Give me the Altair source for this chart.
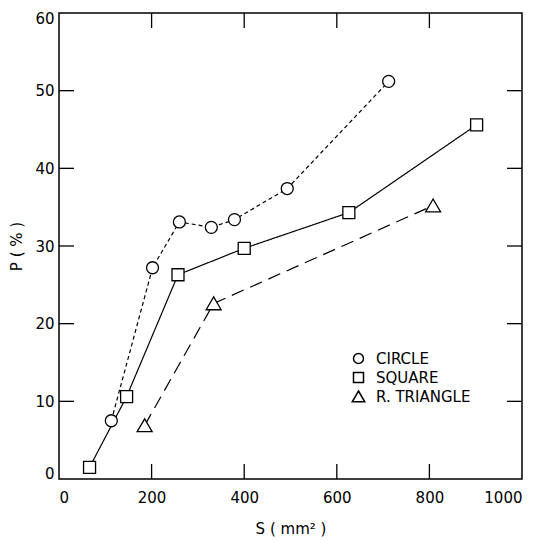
import altair as alt
import pandas as pd

# Data
circle_s = [113, 202, 260, 329, 379, 493, 712]
circle_p = [7.5, 27.2, 33.1, 32.4, 33.4, 37.4, 51.2]
square_s = [66, 146, 257, 400, 626, 902]
square_p = [1.5, 10.6, 26.3, 29.7, 34.3, 45.6]
tri_s = [185, 334, 808]
tri_p = [6.9, 22.6, 35.2]

series = ["CIRCLE", "SQUARE", "R. TRIANGLE"]
styles = ["dotted", "solid", "dashed"]
x_ticks = [0, 200, 400, 600, 800, 1000]
y_ticks = [0, 10, 20, 30, 40, 50, 60]
x_inner = [200, 400, 600, 800]
y_inner = [10, 20, 30, 40, 50]

rows = []
for name, sty, xs, ys in [("CIRCLE", "dotted", circle_s, circle_p),
                          ("SQUARE", "solid", square_s, square_p),
                          ("R. TRIANGLE", "dashed", tri_s, tri_p)]:
    for a, b in zip(xs, ys):
        rows.append({"S": a, "P": b, "series": name, "style": sty})
df = pd.DataFrame(rows)

FONT = "DejaVu Sans"
W, H = 463, 466
TL = 15

xscale = alt.Scale(domain=[0, 1000], nice=False, zero=False)
yscale = alt.Scale(domain=[0, 60], nice=False, zero=False)

xaxis = alt.Axis(
    values=x_ticks, format="d", title="S ( mm² )", grid=False, ticks=False, domain=False,
    labelFont=FONT, labelFontSize=15, labelColor="black", labelPadding=11,
    labelFlush=True, titleFont=FONT, titleFontSize=15, titleFontWeight="normal",
    titleColor="black", titlePadding=16)
yaxis = alt.Axis(
    values=y_ticks, format="d", title="P ( % )", grid=False, ticks=False, domain=False,
    labelFont=FONT, labelFontSize=15, labelColor="black", labelPadding=5,
    labelFlush=True, labelFlushOffset=2, titleFont=FONT, titleFontSize=15,
    titleFontWeight="normal", titleColor="black", titlePadding=10)

tri_path = "M0,-1.1L1.25,1.05L-1.25,1.05Z"

base = alt.Chart(df)

lines = base.mark_line(color="black", strokeWidth=1.2).encode(
    x=alt.X("S:Q", scale=xscale, axis=xaxis),
    y=alt.Y("P:Q", scale=yscale, axis=yaxis),
    detail="series:N",
    strokeDash=alt.StrokeDash("style:N", scale=alt.Scale(
        domain=styles, range=[[4, 3], [1, 0], [13, 7]]), legend=None),
)

points = base.mark_point(filled=True, fill="white", stroke="black",
                         strokeWidth=1.3, opacity=1, size=144).encode(
    x=alt.X("S:Q", scale=xscale, axis=xaxis),
    y=alt.Y("P:Q", scale=yscale, axis=yaxis),
    shape=alt.Shape("series:N", scale=alt.Scale(
        domain=series, range=["circle", "square", tri_path]),
        legend=alt.Legend(title=None, orient="none", legendX=292, legendY=338,
                          padding=0, labelFont=FONT, labelFontSize=15,
                          labelColor="black", rowPadding=2, labelOffset=10)),
)

xt = pd.DataFrame({"S": x_inner})
yt = pd.DataFrame({"P": y_inner})

top_ticks = alt.Chart(xt).mark_rule(color="black", strokeWidth=1.3).encode(
    x=alt.X("S:Q", scale=xscale, axis=xaxis), y=alt.value(0), y2=alt.value(TL))
bot_ticks = alt.Chart(xt).mark_rule(color="black", strokeWidth=1.3).encode(
    x=alt.X("S:Q", scale=xscale, axis=xaxis), y=alt.value(H - TL), y2=alt.value(H))
left_ticks = alt.Chart(yt).mark_rule(color="black", strokeWidth=1.3).encode(
    y=alt.Y("P:Q", scale=yscale, axis=yaxis), x=alt.value(0), x2=alt.value(TL))
right_ticks = alt.Chart(yt).mark_rule(color="black", strokeWidth=1.3).encode(
    y=alt.Y("P:Q", scale=yscale, axis=yaxis), x=alt.value(W - TL), x2=alt.value(W))

chart = alt.layer(lines, points, top_ticks, bot_ticks, left_ticks, right_ticks).properties(
    width=W, height=H,
    background="white",
    autosize=alt.AutoSizeParams(type="none"),
    padding={"left": 51, "top": 5, "right": 6, "bottom": 60},
).configure_view(stroke="black", strokeWidth=1.5)

chart.save("out.html", embed_options={"renderer": "svg", "actions": False})
